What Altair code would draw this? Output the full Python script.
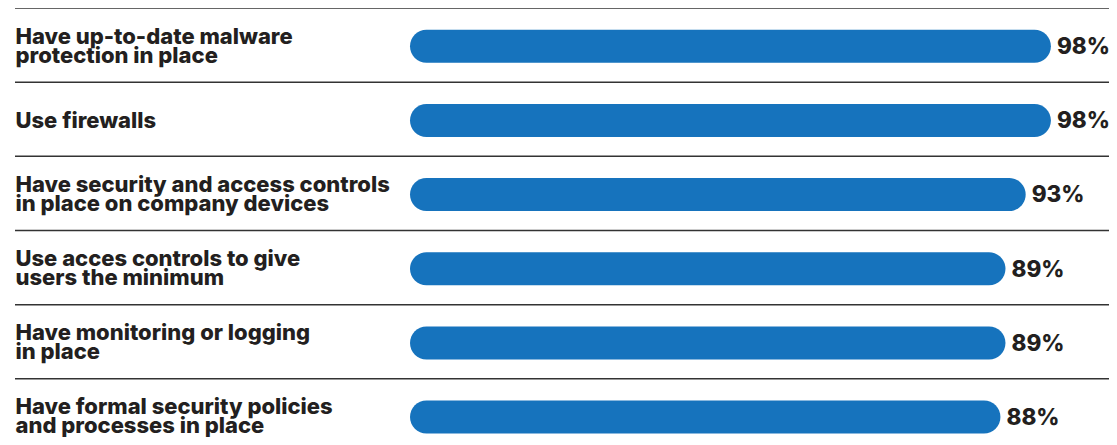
import altair as alt
import pandas as pd

categories = [
    "Have up-to-date malware|protection in place",
    "Use firewalls",
    "Have security and access controls|in place on company devices",
    "Use acces controls to give|users the minimum",
    "Have monitoring or logging|in place",
    "Have formal security policies|and processes in place",
]
values = [98, 98, 93, 89, 89, 88]
value_labels = ["98%", "98%", "93%", "89%", "89%", "88%"]

BAR_BASE = -29
FONT = "Inter"
INK = "#231f20"
BLUE = "#1673bd"

df = pd.DataFrame({"cat": categories, "value": values, "label": value_labels})

W, H = 1094, 429
STEP = 445 / len(categories)
LH = 19

y_enc = alt.Y(
    "cat:N",
    sort=categories,
    scale=alt.Scale(range=[0, 445], paddingInner=0, paddingOuter=0),
    axis=alt.Axis(
        title=None,
        domain=False,
        ticks=False,
        tickSize=0,
        grid=False,
        labelAlign="left",
        labelBaseline="middle",
        labelPadding=0,
        labelLimit=500,
        labelFont=FONT,
        labelFontSize=22,
        labelFontWeight=800,
        labelColor=INK,
        labelLineHeight=LH,
        labelOffset={
            "condition": {"test": "indexof(datum.label, '|') >= 0", "value": 1.0 - LH / 2},
            "value": 1.5,
        },
        labelExpr="split(datum.label, '|')",
    ),
)
x_scale = alt.Scale(domain=[BAR_BASE, 100], range=[395, 1046], zero=False, nice=False)

base = alt.Chart(df)

seps = base.mark_rule(color="#333333", strokeWidth=1.5, yOffset=-STEP / 2).encode(
    y=alt.Y("cat:N", sort=categories)
)

bars = base.mark_bar(height=33, cornerRadius=16.5, color=BLUE, yOffset=1.2).encode(
    y=y_enc,
    x=alt.X("value:Q", scale=x_scale, axis=None),
    x2=alt.datum(BAR_BASE),
)

texts = base.mark_text(
    align="left", baseline="middle", dx=6, dy=2, font=FONT, fontSize=22.5,
    fontWeight=800, color=INK,
).encode(
    y=alt.Y("cat:N", sort=categories),
    x=alt.X("value:Q", scale=x_scale),
    text="label:N",
)

chart = (
    alt.layer(seps, bars, texts)
    .properties(
        width=W, height=H,
        autosize=alt.AutoSizeParams(type="none"),
        padding={"left": 7, "top": 0, "right": 0, "bottom": 0},
    )
    .configure_view(stroke=None)
)

chart.save("out.html", embed_options={"renderer": "svg", "actions": False})
